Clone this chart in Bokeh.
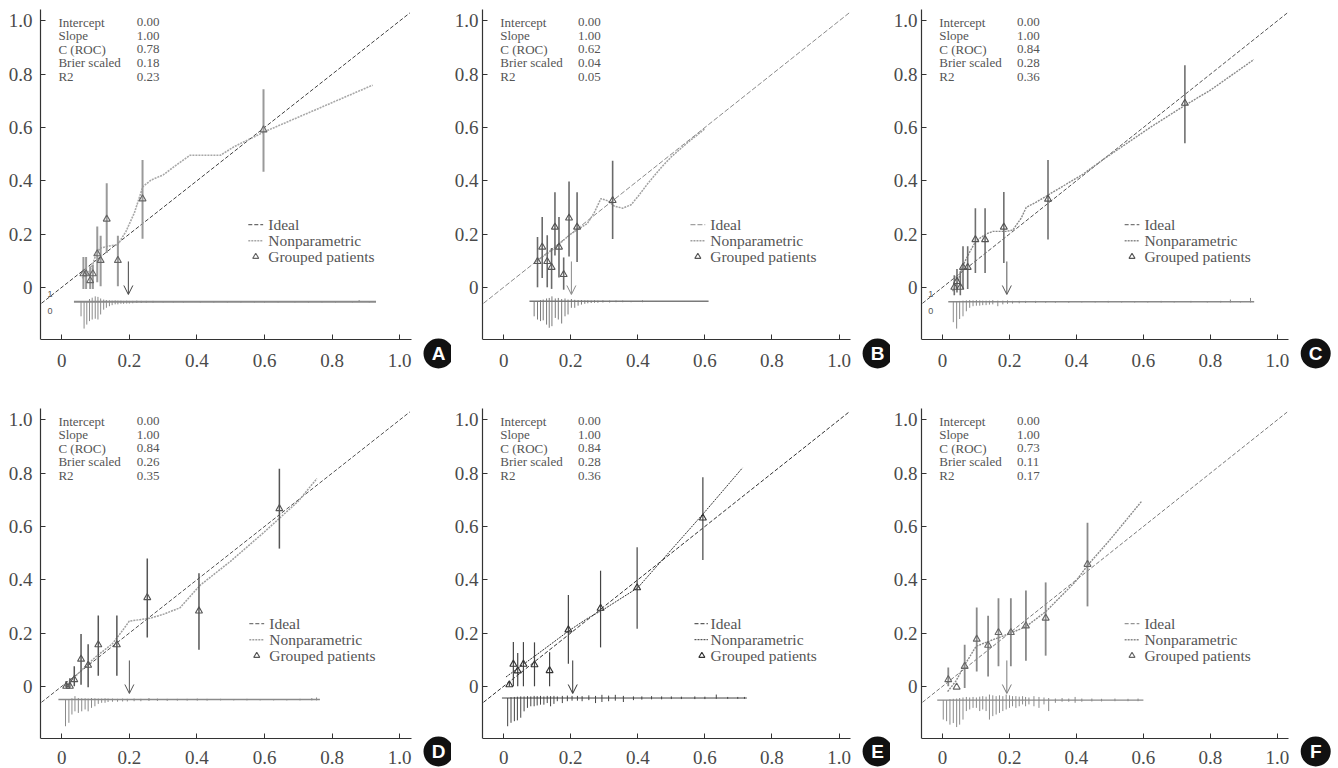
from bokeh.plotting import figure
from bokeh.layouts import gridplot
from bokeh.models import Range1d, FixedTicker, Arrow, OpenHead
from bokeh.core.properties import value
from bokeh.embed import file_html
from bokeh.resources import INLINE

# ---------------- data ----------------
panel_letters = ["A", "B", "C", "D", "E", "F"]
stat_names = ["Intercept", "Slope", "C (ROC)", "Brier scaled", "R2"]
stats_a = ["0.00", "1.00", "0.78", "0.18", "0.23"]
stats_b = ["0.00", "1.00", "0.62", "0.04", "0.05"]
stats_c = ["0.00", "1.00", "0.84", "0.28", "0.36"]
stats_d = ["0.00", "1.00", "0.84", "0.26", "0.35"]
stats_e = ["0.00", "1.00", "0.84", "0.28", "0.36"]
stats_f = ["0.00", "1.00", "0.73", "0.11", "0.17"]
legend_names = ["Ideal", "Nonparametric", "Grouped patients"]
tick_values = [0, 0.2, 0.4, 0.6, 0.8, 1.0]
tick_labels = ["0", "0.2", "0.4", "0.6", "0.8", "1.0"]
ideal_x = [-0.06, 1.03]

grp_a_x = [0.064, 0.072, 0.084, 0.092, 0.105, 0.115, 0.133, 0.166, 0.239, 0.597]
grp_a_y = [0.051, 0.051, 0.025, 0.051, 0.126, 0.101, 0.256, 0.101, 0.332, 0.591]
grp_a_lo = [-0.006, -0.006, -0.006, -0.006, 0.019, 0.004, 0.129, 0.004, 0.182, 0.434]
grp_a_hi = [0.114, 0.114, 0.079, 0.085, 0.228, 0.194, 0.391, 0.194, 0.478, 0.744]

grp_b_x = [0.101, 0.115, 0.130, 0.143, 0.153, 0.165, 0.179, 0.195, 0.219, 0.325]
grp_b_y = [0.097, 0.151, 0.097, 0.075, 0.226, 0.151, 0.048, 0.260, 0.226, 0.326]
grp_b_lo = [0.0, 0.035, 0.0, -0.006, 0.119, 0.037, -0.009, 0.116, 0.095, 0.181]
grp_b_hi = [0.189, 0.264, 0.195, 0.148, 0.357, 0.264, 0.112, 0.397, 0.357, 0.475]

grp_c_x = [0.035, 0.043, 0.053, 0.061, 0.075, 0.098, 0.127, 0.183, 0.315, 0.724]
grp_c_y = [0.0, 0.022, 0.0, 0.075, 0.075, 0.179, 0.179, 0.226, 0.331, 0.691]
grp_c_lo = [-0.03, -0.02, -0.03, -0.006, -0.006, 0.054, 0.054, 0.091, 0.179, 0.541]
grp_c_hi = [0.045, 0.069, 0.060, 0.154, 0.154, 0.297, 0.297, 0.358, 0.478, 0.834]

grp_d_x = [0.013, 0.024, 0.037, 0.057, 0.078, 0.108, 0.163, 0.253, 0.406, 0.644]
grp_d_y = [0.0, 0.0, 0.025, 0.102, 0.079, 0.156, 0.156, 0.333, 0.283, 0.667]
grp_d_lo = [-0.005, -0.005, 0.0, 0.006, -0.004, 0.040, 0.040, 0.183, 0.137, 0.517]
grp_d_hi = [0.020, 0.030, 0.075, 0.196, 0.158, 0.266, 0.266, 0.480, 0.424, 0.817]

grp_e_x = [0.017, 0.029, 0.042, 0.059, 0.092, 0.137, 0.193, 0.289, 0.398, 0.594]
grp_e_y = [0.006, 0.083, 0.058, 0.083, 0.081, 0.059, 0.212, 0.293, 0.370, 0.632]
grp_e_lo = [0.0, 0.0, 0.0, 0.0, 0.0, 0.0, 0.085, 0.146, 0.216, 0.474]
grp_e_hi = [0.020, 0.166, 0.125, 0.166, 0.165, 0.128, 0.343, 0.434, 0.522, 0.785]

grp_f_x = [0.017, 0.042, 0.066, 0.102, 0.136, 0.167, 0.204, 0.249, 0.308, 0.433]
grp_f_y = [0.025, -0.003, 0.075, 0.177, 0.154, 0.202, 0.202, 0.227, 0.256, 0.458]
grp_f_lo = [0.0, -0.003, -0.006, 0.056, 0.037, 0.075, 0.075, 0.096, 0.115, 0.300]
grp_f_hi = [0.071, -0.003, 0.156, 0.296, 0.265, 0.331, 0.331, 0.360, 0.390, 0.614]

np_a_x = [0.06, 0.075, 0.09, 0.10, 0.113, 0.14, 0.166, 0.19, 0.215, 0.24, 0.265, 0.30, 0.34, 0.38, 0.47, 0.51, 0.60, 0.75, 0.92]
np_a_y = [0.035, 0.045, 0.08, 0.12, 0.147, 0.155, 0.16, 0.21, 0.28, 0.378, 0.403, 0.422, 0.46, 0.496, 0.496, 0.528, 0.584, 0.666, 0.759]
np_b_x = [0.10, 0.15, 0.20, 0.25, 0.27, 0.29, 0.31, 0.33, 0.355, 0.38, 0.40, 0.43, 0.47, 0.50, 0.55, 0.60]
np_b_y = [0.10, 0.145, 0.20, 0.24, 0.28, 0.333, 0.325, 0.305, 0.297, 0.31, 0.34, 0.39, 0.45, 0.49, 0.545, 0.595]
np_c_x = [0.03, 0.045, 0.06, 0.08, 0.10, 0.13, 0.15, 0.19, 0.21, 0.235, 0.25, 0.28, 0.32, 0.36, 0.42, 0.48, 0.55, 0.62, 0.72, 0.80, 0.93]
np_c_y = [-0.015, 0.02, 0.08, 0.13, 0.175, 0.20, 0.21, 0.21, 0.215, 0.26, 0.30, 0.32, 0.35, 0.38, 0.425, 0.48, 0.54, 0.60, 0.68, 0.74, 0.855]
np_d_x = [0.01, 0.05, 0.10, 0.15, 0.18, 0.20, 0.23, 0.26, 0.30, 0.35, 0.41, 0.50, 0.60, 0.70, 0.755]
np_d_y = [0.0, 0.05, 0.11, 0.16, 0.21, 0.245, 0.25, 0.255, 0.27, 0.295, 0.38, 0.47, 0.58, 0.695, 0.78]
np_e_x = [0.007, 0.10, 0.194, 0.25, 0.30, 0.40, 0.47, 0.60, 0.712]
np_e_y = [0.035, 0.12, 0.208, 0.255, 0.29, 0.37, 0.47, 0.655, 0.82]
np_f_x = [0.015, 0.04, 0.066, 0.10, 0.136, 0.204, 0.249, 0.308, 0.397, 0.434, 0.50, 0.595]
np_f_y = [-0.02, 0.02, 0.08, 0.15, 0.168, 0.20, 0.224, 0.28, 0.393, 0.455, 0.55, 0.695]

rug_a_x = [0.057, 0.066, 0.074, 0.082, 0.090, 0.099, 0.107, 0.115, 0.124, 0.132,
           0.141, 0.149, 0.158, 0.166, 0.175, 0.183, 0.192, 0.200, 0.210, 0.222,
           0.235, 0.250, 0.270, 0.300, 0.330, 0.360, 0.410, 0.450, 0.490, 0.530,
           0.570, 0.600, 0.640, 0.690, 0.730, 0.770, 0.810, 0.860, 0.880, 0.910]
rug_a_dn = [0.055, 0.101, 0.086, 0.073, 0.067, 0.064, 0.067, 0.048, 0.030, 0.023,
            0.017, 0.013, 0.010, 0.010, 0.008, 0.008, 0.007, 0.007, 0.006, 0.005,
            0.005, 0.004, 0.004, 0.003, 0.003, 0.003, 0.003, 0.003, 0.003, 0.003,
            0.003, 0.003, 0.003, 0.003, 0.003, 0.003, 0.003, 0.003, 0.000, 0.003]
rug_a_up = [0.000, 0.000, 0.000, 0.010, 0.015, 0.020, 0.018, 0.012, 0.008, 0.006,
            0.005, 0.004, 0.005, 0.004, 0.004, 0.003, 0.004, 0.003, 0.003, 0.004,
            0.003, 0.003, 0.003, 0.002, 0.000, 0.000, 0.000, 0.000, 0.000, 0.000,
            0.000, 0.000, 0.000, 0.000, 0.000, 0.000, 0.000, 0.000, 0.006, 0.000]

rug_b_x = [0.091, 0.101, 0.110, 0.118, 0.128, 0.136, 0.144, 0.154, 0.163, 0.173,
           0.183, 0.192, 0.202, 0.212, 0.222, 0.232, 0.242, 0.251, 0.261, 0.271,
           0.281, 0.296, 0.316, 0.335, 0.355, 0.380, 0.414, 0.454, 0.503, 0.542,
           0.572, 0.602]
rug_b_dn = [0.057, 0.069, 0.075, 0.072, 0.088, 0.100, 0.094, 0.063, 0.069, 0.084,
            0.057, 0.050, 0.025, 0.025, 0.017, 0.013, 0.010, 0.008, 0.007, 0.006,
            0.006, 0.005, 0.005, 0.004, 0.004, 0.004, 0.004, 0.003, 0.003, 0.003,
            0.003, 0.003]
rug_b_up = [0.000, 0.000, 0.004, 0.006, 0.010, 0.012, 0.018, 0.010, 0.012, 0.008,
            0.010, 0.006, 0.008, 0.005, 0.004, 0.004, 0.003, 0.003, 0.002, 0.003,
            0.002, 0.003, 0.002, 0.002, 0.002, 0.000, 0.003, 0.000, 0.000, 0.000,
            0.000, 0.000]

rug_c_x = [0.032, 0.042, 0.051, 0.061, 0.071, 0.081, 0.091, 0.101, 0.111, 0.120,
           0.130, 0.140, 0.150, 0.165, 0.180, 0.194, 0.209, 0.229, 0.248, 0.278,
           0.308, 0.337, 0.377, 0.416, 0.456, 0.495, 0.535, 0.574, 0.613, 0.653,
           0.692, 0.742, 0.791, 0.831, 0.860, 0.890, 0.920]
rug_c_dn = [0.077, 0.101, 0.065, 0.055, 0.036, 0.023, 0.017, 0.015, 0.015, 0.013,
            0.013, 0.011, 0.010, 0.017, 0.010, 0.008, 0.007, 0.006, 0.005, 0.005,
            0.004, 0.004, 0.004, 0.003, 0.003, 0.003, 0.003, 0.003, 0.003, 0.003,
            0.003, 0.003, 0.003, 0.003, 0.003, 0.003, 0.003]
rug_c_up = [0.000, 0.000, 0.003, 0.004, 0.005, 0.006, 0.005, 0.006, 0.005, 0.004,
            0.004, 0.004, 0.006, 0.004, 0.004, 0.005, 0.003, 0.003, 0.003, 0.003,
            0.002, 0.002, 0.002, 0.002, 0.002, 0.003, 0.002, 0.002, 0.002, 0.003,
            0.002, 0.003, 0.002, 0.003, 0.008, 0.002, 0.014]

rug_d_x = [0.011, 0.021, 0.030, 0.039, 0.049, 0.059, 0.069, 0.078, 0.088, 0.098,
           0.108, 0.118, 0.128, 0.137, 0.150, 0.165, 0.180, 0.194, 0.214, 0.234,
           0.258, 0.283, 0.312, 0.342, 0.371, 0.401, 0.430, 0.470, 0.509, 0.548,
           0.587, 0.627, 0.666, 0.705, 0.740, 0.754]
rug_d_dn = [0.100, 0.087, 0.056, 0.044, 0.050, 0.044, 0.037, 0.044, 0.031, 0.025,
            0.016, 0.012, 0.012, 0.009, 0.008, 0.008, 0.007, 0.007, 0.006, 0.006,
            0.005, 0.005, 0.005, 0.004, 0.004, 0.004, 0.004, 0.003, 0.003, 0.003,
            0.003, 0.003, 0.003, 0.003, 0.003, 0.003]
rug_d_up = [0.000, 0.000, 0.005, 0.013, 0.006, 0.005, 0.005, 0.004, 0.006, 0.005,
            0.004, 0.004, 0.005, 0.004, 0.004, 0.003, 0.004, 0.003, 0.004, 0.003,
            0.006, 0.004, 0.003, 0.003, 0.003, 0.004, 0.003, 0.003, 0.002, 0.003,
            0.002, 0.002, 0.002, 0.003, 0.006, 0.008]

rug_e_x = [0.012, 0.022, 0.032, 0.041, 0.051, 0.061, 0.071, 0.081, 0.091, 0.100,
           0.110, 0.120, 0.130, 0.140, 0.150, 0.160, 0.175, 0.190, 0.204, 0.220,
           0.234, 0.254, 0.274, 0.293, 0.313, 0.333, 0.357, 0.387, 0.412, 0.441,
           0.471, 0.500, 0.530, 0.570, 0.600, 0.634, 0.668, 0.698, 0.718]
rug_e_dn = [0.106, 0.093, 0.087, 0.084, 0.074, 0.050, 0.037, 0.031, 0.031, 0.028,
            0.025, 0.025, 0.019, 0.031, 0.022, 0.012, 0.019, 0.012, 0.010, 0.010,
            0.012, 0.008, 0.019, 0.015, 0.012, 0.010, 0.015, 0.008, 0.006, 0.005,
            0.005, 0.004, 0.004, 0.004, 0.004, 0.003, 0.003, 0.003, 0.003]
rug_e_up = [0.000, 0.003, 0.004, 0.005, 0.006, 0.006, 0.007, 0.006, 0.008, 0.007,
            0.008, 0.006, 0.008, 0.007, 0.008, 0.006, 0.008, 0.009, 0.008, 0.008,
            0.007, 0.010, 0.008, 0.012, 0.009, 0.012, 0.008, 0.006, 0.006, 0.007,
            0.006, 0.006, 0.005, 0.006, 0.005, 0.013, 0.004, 0.004, 0.004]

rug_f_x = [0.002, 0.012, 0.022, 0.032, 0.042, 0.051, 0.061, 0.071, 0.081, 0.091,
           0.101, 0.111, 0.120, 0.130, 0.140, 0.150, 0.160, 0.170, 0.180, 0.190,
           0.200, 0.209, 0.219, 0.229, 0.239, 0.248, 0.258, 0.273, 0.288, 0.303,
           0.317, 0.337, 0.357, 0.377, 0.396, 0.416, 0.446, 0.475, 0.515, 0.554,
           0.584]
rug_f_dn = [0.073, 0.079, 0.092, 0.086, 0.101, 0.092, 0.073, 0.041, 0.035, 0.029,
            0.029, 0.041, 0.035, 0.041, 0.073, 0.060, 0.054, 0.048, 0.041, 0.035,
            0.029, 0.023, 0.029, 0.023, 0.016, 0.023, 0.016, 0.023, 0.029, 0.016,
            0.041, 0.010, 0.006, 0.006, 0.010, 0.006, 0.005, 0.005, 0.004, 0.004,
            0.004]
rug_f_up = [0.000, 0.000, 0.004, 0.005, 0.006, 0.008, 0.010, 0.012, 0.010, 0.012,
            0.010, 0.013, 0.015, 0.013, 0.021, 0.018, 0.015, 0.018, 0.015, 0.021,
            0.018, 0.015, 0.015, 0.013, 0.015, 0.012, 0.010, 0.015, 0.012, 0.010,
            0.008, 0.006, 0.008, 0.006, 0.012, 0.006, 0.006, 0.005, 0.006, 0.005,
            0.006]

rug_level = [-0.054, -0.052, -0.054, -0.050, -0.044, -0.052]
rug_lo = [0.036, 0.077, 0.017, -0.010, -0.005, -0.016]
rug_hi = [0.930, 0.611, 0.931, 0.764, 0.725, 0.600]
arrow_x = [0.197, 0.202, 0.192, 0.200, 0.206, 0.192]

# ---------------- layout / style ----------------
X_LO, X_HI = -0.063, 1.035
Y_LO, Y_HI = -0.196, 1.043
AX_W, AX_H = 371, 330
PX_X = AX_W / (X_HI - X_LO)
PX_Y = AX_H / (Y_HI - Y_LO)
col_left = [40, 28, 27]
col_extra = [40, 40, 50]
row_top = [9, 8]
row_extra = [61, 30]
x_standoff = [14, 12]
y_standoff = [8, 4, 4]
badge_dy = [14, 13]
SERIF = "Liberation Serif"
SANS = "Liberation Sans"

styles = [
    dict(ideal="#444444", idash="4 2", npc="#a8a8a8", npw=1.6, err="#9a9a9a", errw=2.0, tri="#666666", rug="#8a8a8a", rugw=2.0, leg_dx=0.059, leg_len=0.044),
    dict(ideal="#8a8a8a", idash="5 2", npc="#a0a0a0", npw=1.5, err="#6a6a6a", errw=1.6, tri="#555555", rug="#7a7a7a", rugw=1.5, leg_dx=0.059, leg_len=0.044),
    dict(ideal="#555555", idash="4 2", npc="#8a8a8a", npw=1.4, err="#707070", errw=1.6, tri="#555555", rug="#8a8a8a", rugw=1.5, leg_dx=0.059, leg_len=0.044),
    dict(ideal="#555555", idash="4 2", npc="#a0a0a0", npw=1.5, err="#555555", errw=1.5, tri="#555555", rug="#8a8a8a", rugw=1.5, leg_dx=0.059, leg_len=0.044),
    dict(ideal="#333333", idash="4 2", npc="#333333", npw=1.0, err="#444444", errw=1.2, tri="#333333", rug="#444444", rugw=1.0, leg_dx=0.048, leg_len=0.040),
    dict(ideal="#7a7a7a", idash="4 2", npc="#8a8a8a", npw=1.4, err="#8a8a8a", errw=1.8, tri="#666666", rug="#8a8a8a", rugw=1.3, leg_dx=0.059, leg_len=0.044),
]
legend_x = [0.552, 0.557, 0.544, 0.555, 0.569, 0.544]
legend_y = [0.235, 0.175, 0.115]
stat_label_x, stat_value_x, stat_y0, stat_dy = -0.01, 0.222, 0.996, 0.0512

panels = [
    dict(stats=stats_a, gx=grp_a_x, gy=grp_a_y, glo=grp_a_lo, ghi=grp_a_hi, nx=np_a_x, ny=np_a_y, rx=rug_a_x, rdn=rug_a_dn, rup=rug_a_up, zero_one=True),
    dict(stats=stats_b, gx=grp_b_x, gy=grp_b_y, glo=grp_b_lo, ghi=grp_b_hi, nx=np_b_x, ny=np_b_y, rx=rug_b_x, rdn=rug_b_dn, rup=rug_b_up, zero_one=False),
    dict(stats=stats_c, gx=grp_c_x, gy=grp_c_y, glo=grp_c_lo, ghi=grp_c_hi, nx=np_c_x, ny=np_c_y, rx=rug_c_x, rdn=rug_c_dn, rup=rug_c_up, zero_one=True),
    dict(stats=stats_d, gx=grp_d_x, gy=grp_d_y, glo=grp_d_lo, ghi=grp_d_hi, nx=np_d_x, ny=np_d_y, rx=rug_d_x, rdn=rug_d_dn, rup=rug_d_up, zero_one=False),
    dict(stats=stats_e, gx=grp_e_x, gy=grp_e_y, glo=grp_e_lo, ghi=grp_e_hi, nx=np_e_x, ny=np_e_y, rx=rug_e_x, rdn=rug_e_dn, rup=rug_e_up, zero_one=False),
    dict(stats=stats_f, gx=grp_f_x, gy=grp_f_y, glo=grp_f_lo, ghi=grp_f_hi, nx=np_f_x, ny=np_f_y, rx=rug_f_x, rdn=rug_f_dn, rup=rug_f_up, zero_one=False),
]


def make_panel(i):
    r, c = divmod(i, 3)
    d = panels[i]
    s = styles[i]
    frame_w = AX_W + col_extra[c]
    frame_h = AX_H + row_extra[r]
    w = col_left[c] + frame_w
    h = row_top[r] + frame_h
    x_end = X_LO + frame_w / PX_X
    y_start = Y_HI - frame_h / PX_Y
    p = figure(width=w, height=h, x_range=Range1d(X_LO, x_end), y_range=Range1d(y_start, Y_HI),
               output_backend="svg", toolbar_location=None,
               min_border_left=col_left[c], min_border_right=0,
               min_border_top=row_top[r], min_border_bottom=0)
    p.outline_line_color = None
    p.grid.visible = False
    p.background_fill_color = "white"
    p.border_fill_color = "white"

    for ax in (p.xaxis[0], p.yaxis[0]):
        ax.ticker = FixedTicker(ticks=tick_values)
        ax.major_label_overrides = {t: lab for t, lab in zip(tick_values, tick_labels)}
        ax.major_label_text_font = SERIF
        ax.major_label_text_font_size = "19px"
        ax.major_label_text_color = "#4a4a4a"
        ax.axis_line_color = "#333333"
        ax.axis_line_width = 1.2
        ax.major_tick_line_color = "#333333"
        ax.major_tick_in = 5
        ax.major_tick_out = 0
        ax.minor_tick_in = 0
        ax.minor_tick_out = 0
    p.xaxis.fixed_location = Y_LO
    p.xaxis.bounds = (X_LO, X_HI)
    p.yaxis.bounds = (Y_LO, Y_HI)
    p.xaxis.major_label_standoff = x_standoff[r]
    p.yaxis.major_label_standoff = y_standoff[c]

    lvl = rug_level[i]
    p.segment(x0=[rug_lo[i]], y0=[lvl], x1=[rug_hi[i]], y1=[lvl], line_color=s["rug"], line_width=s["rugw"])
    p.segment(x0=d["rx"], y0=[lvl] * len(d["rx"]), x1=d["rx"], y1=[lvl - v for v in d["rdn"]],
              line_color=s["rug"], line_width=1)
    p.segment(x0=d["rx"], y0=[lvl] * len(d["rx"]), x1=d["rx"], y1=[lvl + v for v in d["rup"]],
              line_color=s["rug"], line_width=1)
    if d["zero_one"]:
        p.text(x=[-0.035, -0.035], y=[lvl + 0.03, lvl - 0.036], text=["1", "0"],
               text_font=value(SANS), text_font_size=value("9px"), text_color="#555555",
               text_align="center", text_baseline="middle")

    p.line(ideal_x, ideal_x, line_color=s["ideal"], line_dash=s["idash"], line_width=1)
    p.line(d["nx"], d["ny"], line_color=s["npc"], line_dash="2 1", line_width=s["npw"])
    p.segment(x0=d["gx"], y0=d["glo"], x1=d["gx"], y1=d["ghi"], line_color=s["err"], line_width=s["errw"])
    p.scatter(d["gx"], d["gy"], marker="triangle", size=7, fill_color=None,
              line_color=s["tri"], line_width=1.1)

    p.add_layout(Arrow(end=OpenHead(size=9, line_color=s["ideal"], line_width=1),
                       x_start=arrow_x[i], y_start=0.097, x_end=arrow_x[i], y_end=-0.027,
                       line_color=s["ideal"], line_width=1))

    ys = [stat_y0 - k * stat_dy for k in range(len(stat_names))]
    p.text(x=[stat_label_x] * len(ys), y=ys, text=stat_names, text_font=value(SERIF),
           text_font_size=value("13px"), text_color="#555555", text_baseline="middle")
    p.text(x=[stat_value_x] * len(ys), y=ys, text=d["stats"], text_font=value(SERIF),
           text_font_size=value("13px"), text_color="#555555", text_baseline="middle")

    lx = legend_x[i]
    ll = s["leg_len"]
    p.line([lx, lx + ll], [legend_y[0]] * 2, line_color=s["ideal"], line_dash=s["idash"], line_width=1)
    p.line([lx, lx + ll], [legend_y[1]] * 2, line_color=s["npc"], line_dash="2 1", line_width=s["npw"])
    p.scatter([lx + 0.022], [legend_y[2]], marker="triangle", size=6, fill_color=None,
              line_color=s["tri"], line_width=1.1)
    p.text(x=[lx + s["leg_dx"]] * 3, y=legend_y, text=legend_names, text_font=value(SERIF),
           text_font_size=value("15.5px"), text_color="#555555", text_baseline="middle")

    # panel letter badge (black disc with white letter)
    bx = X_HI + 27 / PX_X
    by = Y_LO - badge_dy[r] / PX_Y
    p.scatter([bx], [by], marker="circle", size=30, fill_color="#111111", line_color=None)
    p.text(x=[bx], y=[by], text=[panel_letters[i]], text_font=value(SANS),
           text_font_style="bold", text_font_size=value("19px"), text_color="white",
           text_align="center", text_baseline="middle")
    return p


figs = [make_panel(i) for i in range(6)]
grid = gridplot([figs[0:3], figs[3:6]], toolbar_location=None)

open("out.html", "w").write(file_html(grid, INLINE))
